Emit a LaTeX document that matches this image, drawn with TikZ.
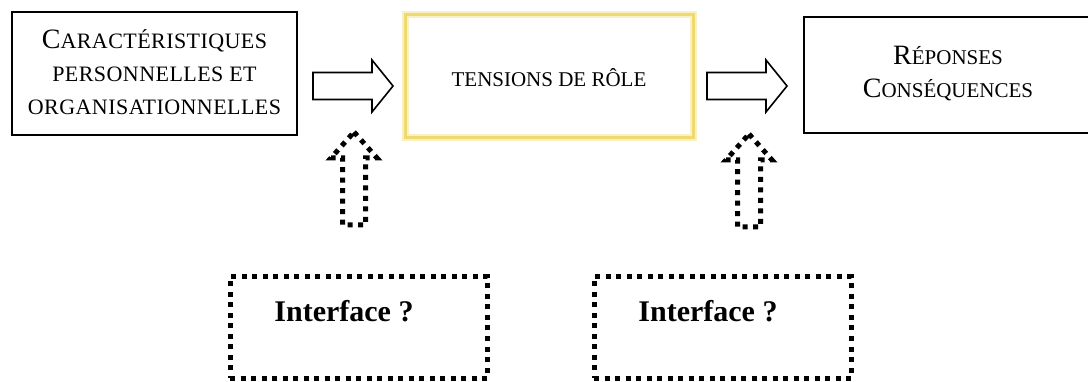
\documentclass[tikz,border=0pt]{standalone}
\usepackage{fontspec}
\setmainfont{Liberation Serif}
\newcommand{\capbig}[1]{{\fontsize{28}{33}\selectfont #1}}
\newcommand{\capsmall}{\fontsize{21}{33}\selectfont}
\newcommand{\capwide}{\fontsize{22}{33}\selectfont\addfontfeature{LetterSpace=2}}
\definecolor{roleyellow}{RGB}{238,218,112}
\definecolor{rolehalo}{RGB}{249,240,196}
\begin{document}
\begin{tikzpicture}[x=1pt,y=-1pt,
  plainbox/.style={draw=black, line width=1.6pt, fill=white, inner sep=0pt},
  dotline/.style={draw=black, line width=5pt, dash pattern=on 5pt off 5.5pt},
  hollow/.style={draw=black, line width=1.6pt, fill=white, line join=miter},
  pics/blockarrow/.style={code={
    \draw[hollow] (0,-13.5) -- (59,-13.5) -- (59,-26) -- (80,0) -- (59,26)
      -- (59,13.5) -- (0,13.5) -- cycle;}},
  pics/dotarrow/.style={code={
    \draw[dotline] (0,0) -- (23,26) -- (11.5,26) -- (11.5,93) -- (-11.5,93)
      -- (-11.5,26) -- (-23,26) -- cycle;}},
  label/.style={align=center, inner sep=0pt, font=\capsmall},
  iface/.style={font=\fontsize{30}{34}\selectfont\bfseries, inner sep=0pt, anchor=base}]
\useasboundingbox (0,0) rectangle (1088,382);
\fill[white] (0,0) rectangle (1088,382);

% the three main blocks
\node[plainbox, minimum width=285pt, minimum height=123pt] (carac) at (154.5,73.5) {};
\node[label, font=\capwide] (caractxt) at (154.5,72)
  {\capbig{C}ARACTÉRISTIQUES\\PERSONNELLES ET\\ORGANISATIONNELLES};

\node[draw=rolehalo, line width=7pt, minimum width=288pt, minimum height=123pt] (tension) at (549,76.5) {};
\node[draw=roleyellow, line width=3pt, minimum width=288pt, minimum height=123pt] (tensionedge) at (549,76.5) {};
\node[label] (tensiontxt) at (549,78) {TENSIONS DE RÔLE};

\node[plainbox, minimum width=290pt, minimum height=116pt, anchor=west] (rep) at (803,75) {};
\node[label] (reptxt) at (948,74) {\capbig{R}ÉPONSES\\\capbig{C}ONSÉQUENCES};

% hollow block arrows between the blocks
\coordinate (arrowA) at (313,86);
\coordinate (arrowB) at (707,86);
\pic at (arrowA) {blockarrow};
\pic at (arrowB) {blockarrow};

% dotted upward arrows
\coordinate (upA) at (354,132);
\coordinate (upB) at (749,134);
\pic at (upA) {dotarrow};
\pic at (upB) {dotarrow};

% dotted interface boxes
\node[dotline, minimum width=257pt, minimum height=101pt] (ifaceA) at (358.5,327.5) {};
\node[dotline, minimum width=257pt, minimum height=101pt] (ifaceB) at (722.5,327.5) {};
\node[iface] (ifaceAtxt) at (344,322) {Interface ?};
\node[iface] (ifaceBtxt) at (708,322) {Interface ?};
\end{tikzpicture}
\end{document}
